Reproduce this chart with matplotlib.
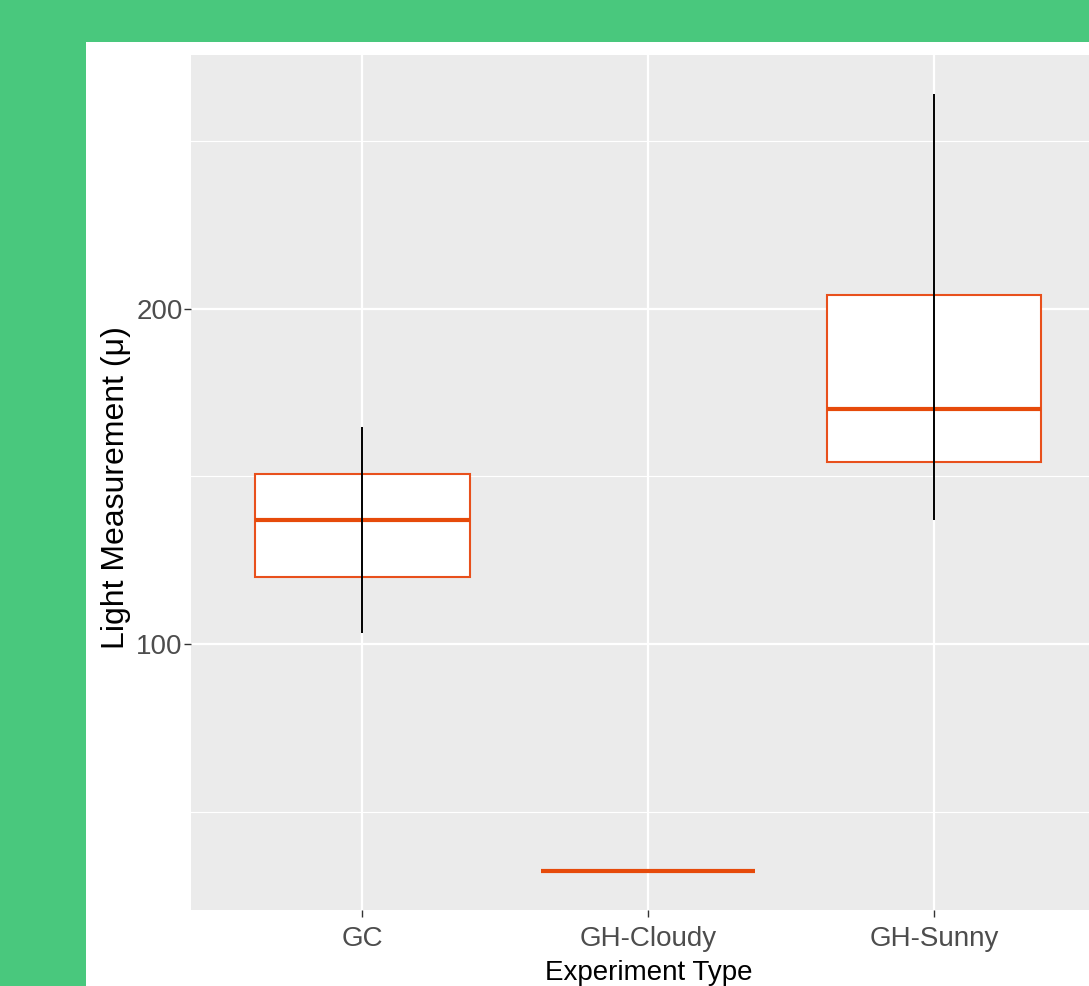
import matplotlib
matplotlib.use("Agg")
import matplotlib.pyplot as plt
from matplotlib.patches import Rectangle
import numpy as np

plt.rcParams['font.family'] = ['Liberation Sans', 'DejaVu Sans']

# box summaries per experiment type
groups = ['GC', 'GH-Cloudy', 'GH-Sunny']
whisker_low = [103.3, 32.4, 136.9]
q1 = [119.9, 32.4, 154.2]
medians = [136.9, 32.4, 170.2]
q3 = [150.6, 32.4, 204.2]
whisker_high = [164.6, 32.4, 264.0]

box_col = '#E8501C'
W, H = 1089, 986

fig = plt.figure(figsize=(W / 100, H / 100), dpi=100)
fig.patch.set_facecolor('#49C87D')
fig.add_artist(Rectangle((86 / W, 0), 1 - 86 / W, 1 - 42 / H,
                         transform=fig.transFigure, facecolor='white',
                         edgecolor='none', zorder=-5))

left, right, top, bottom = 191, 1105.6, 55, 910
ax = fig.add_axes([left / W, 1 - bottom / H, (right - left) / W, (bottom - top) / H])
ax.set_zorder(2)
ax.set_facecolor('#EBEBEB')
for s in ax.spines.values():
    s.set_visible(False)

pos = np.arange(1, len(groups) + 1)
stats = []
for i, g in enumerate(groups):
    stats.append(dict(label=g, med=medians[i], q1=q1[i], q3=q3[i],
                      whislo=whisker_low[i], whishi=whisker_high[i], fliers=[]))

ax.bxp(stats, positions=pos, widths=0.75, patch_artist=True, showfliers=False,
       boxprops=dict(facecolor='white', edgecolor=box_col, linewidth=1.5),
       medianprops=dict(color='#E64A0A', linewidth=3, solid_capstyle='butt'),
       whiskerprops=dict(linewidth=0), capprops=dict(linewidth=0), zorder=3)
ax.vlines(pos, whisker_low, whisker_high, color='black', linewidth=1.4, zorder=4)

lo, hi = min(whisker_low), max(whisker_high)
pad = (hi - lo) * 0.05
ax.set_ylim(lo - pad, hi + pad)
ax.set_xlim(0.4, 3.6)

ax.set_yticks([100, 200])
ax.set_yticks([50, 150, 250], minor=True)
ax.set_xticks(pos)
ax.set_xticklabels(groups)
ax.grid(True, which='major', color='white', linewidth=1.6, zorder=0)
ax.grid(True, which='minor', axis='y', color='white', linewidth=0.8, zorder=0)
ax.set_axisbelow(True)

ax.tick_params(axis='both', which='major', length=5, width=1.0, color='#333333',
               labelcolor='#4D4D4D', labelsize=20)
ax.tick_params(axis='y', which='major', pad=1)
ax.tick_params(axis='x', which='major', pad=6.5)
ax.tick_params(which='minor', length=0)

ax.set_xlabel('Experiment Type', fontsize=20, color='black', va='baseline')
ax.xaxis.set_label_coords(0.5, (bottom - 980) / (bottom - top))
ax.set_ylabel('Light Measurement (μ)', fontsize=23, color='black', va='center')
ax.yaxis.set_label_coords((116 - left) / (right - left), (bottom - 488) / (bottom - top))

fig.savefig('out.png', dpi=100, facecolor=fig.get_facecolor())
